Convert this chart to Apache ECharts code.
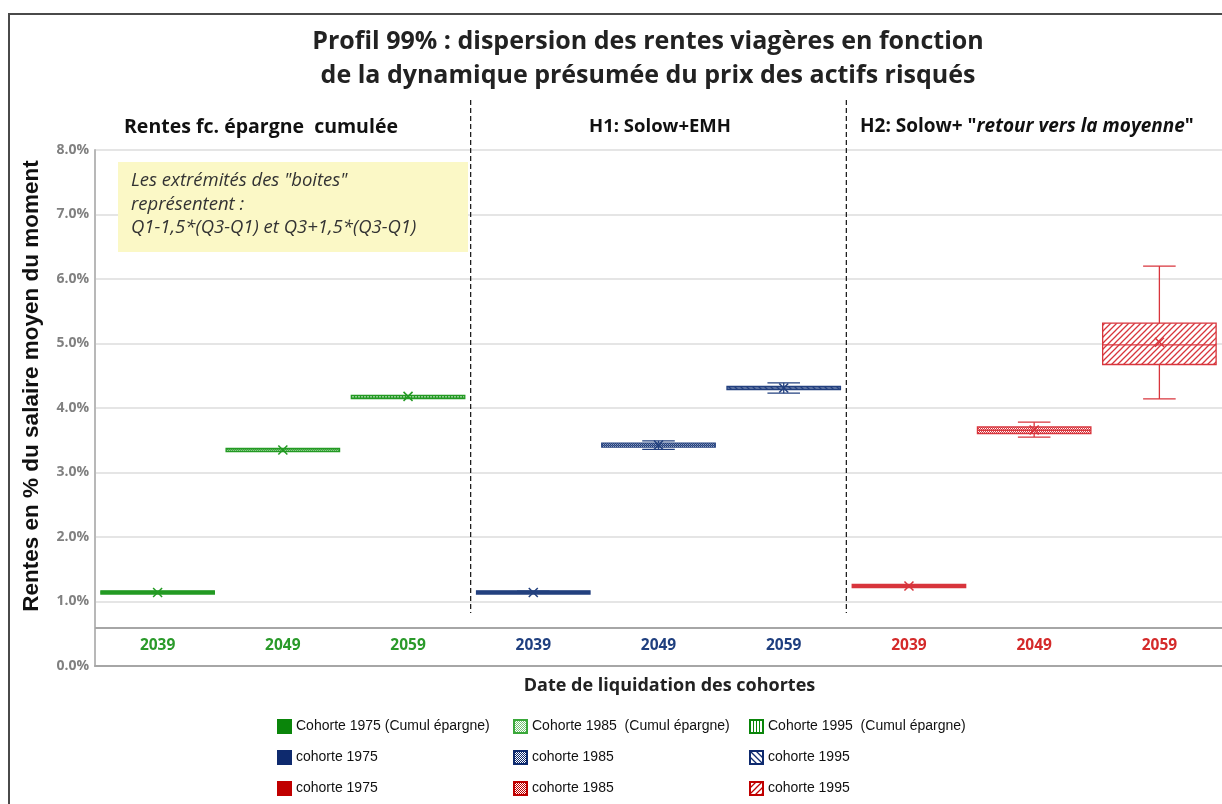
<!DOCTYPE html>
<html>
<head>
    <meta charset="utf-8">
    <title>Profil 99%</title>
    <style>
        html,body{ margin:0; padding:0; background:#fff; }
    </style>
</head>
<body>
<script src="https://cdn.jsdelivr.net/npm/echarts@6/dist/echarts.min.js"></script>
<div id="main" style="width:1222px;height:804px;"></div>
<script type="text/javascript">
    // categories (date de liquidation), 3 groupes
    var categories = ['2039', '2049', '2059', '2039', '2049', '2059', '2039', '2049', '2059'];
    var labelColors = ['#2a9a2a', '#2a9a2a', '#2a9a2a', '#1f3f7f', '#1f3f7f', '#1f3f7f', '#d42a2a', '#d42a2a', '#d42a2a'];

    // une boite par serie (cohorte x hypothese), valeurs en %
    var seriesKeys   = ['v1975', 'v1985', 'v1995', 'b1975', 'b1985', 'b1995', 'r1975', 'r1985', 'r1995'];
    var seriesLabels = ['Cohorte 1975 (Cumul épargne)', 'Cohorte 1985  (Cumul épargne)', 'Cohorte 1995  (Cumul épargne)',
                        'cohorte 1975', 'cohorte 1985', 'cohorte 1995',
                        'cohorte 1975', 'cohorte 1985', 'cohorte 1995'];
    var lowValues    = [1.13, 3.34, 4.16, 1.13, 3.36, 4.23, 1.23, 3.55, 4.14];
    var q1Values     = [1.13, 3.34, 4.16, 1.13, 3.41, 4.30, 1.23, 3.62, 4.69];
    var medianValues = [1.14, 3.35, 4.17, 1.14, 3.425, 4.31, 1.24, 3.655, 4.98];
    var q3Values     = [1.15, 3.36, 4.18, 1.15, 3.44, 4.32, 1.25, 3.69, 5.30];
    var highValues   = [1.15, 3.36, 4.18, 1.16, 3.49, 4.39, 1.25, 3.78, 6.20];
    var meanValues   = [1.14, 3.35, 4.18, 1.14, 3.425, 4.31, 1.24, 3.66, 5.02];

    // separateurs entre les groupes (apres la categorie n)
    var separators = [2, 5];

    var strokeColors = ['#239a23', '#239a23', '#239a23', '#23407f', '#23407f', '#23407f', '#d8353c', '#d8353c', '#d8353c'];
    var legendColors = ['#0a850a', '#3aa83a', '#0a850a', '#0e2a6e', '#0e2a6e', '#0e2a6e', '#c00000', '#c00000', '#c00000'];
    var patternTypes = ['solid', 'dots', 'vstripe', 'solid', 'checker', 'bdiag', 'solid', 'checker', 'fdiag'];

    function makePattern(type, color) {
        if (type == 'solid') return color;
        var cv = document.createElement('canvas');
        var n = (type == 'bdiag' || type == 'fdiag') ? 6 : (type == 'vstripe' ? 3 : 2);
        cv.width = n; cv.height = n;
        var ctx = cv.getContext('2d');
        ctx.fillStyle = '#fff';
        ctx.fillRect(0, 0, n, n);
        ctx.fillStyle = color;
        ctx.strokeStyle = color;
        if (type == 'checker' || type == 'dots') {
            if (type == 'dots') ctx.globalAlpha = 0.7;
            ctx.fillRect(0, 0, 1, 1);
            ctx.fillRect(1, 1, 1, 1);
        } else if (type == 'vstripe') {
            ctx.fillRect(0, 0, 1, n);
        } else {
            ctx.lineWidth = 1.3;
            ctx.beginPath();
            if (type == 'fdiag') {
                ctx.moveTo(-1, n + 1); ctx.lineTo(n + 1, -1);
                ctx.moveTo(-1, 1); ctx.lineTo(1, -1);
                ctx.moveTo(n - 1, n + 1); ctx.lineTo(n + 1, n - 1);
            } else {
                ctx.moveTo(-1, -1); ctx.lineTo(n + 1, n + 1);
                ctx.moveTo(n - 1, -1); ctx.lineTo(n + 1, 1);
                ctx.moveTo(-1, n - 1); ctx.lineTo(1, n + 1);
            }
            ctx.stroke();
        }
        return { image: cv, repeat: 'repeat' };
    }

    function boxRenderer(i) {
        var fill = makePattern(patternTypes[i], strokeColors[i]);
        var col = strokeColors[i];
        return function (params, api) {
            var x = api.value(0);
            var band = api.size([1, 0])[0];
            var half = band * 0.453;
            var cap = band * 0.13;
            var cx = api.coord([x, 0])[0];
            var yLow = api.coord([x, api.value(1)])[1];
            var yQ1 = api.coord([x, api.value(2)])[1];
            var yMed = api.coord([x, api.value(3)])[1];
            var yQ3 = api.coord([x, api.value(4)])[1];
            var yHigh = api.coord([x, api.value(5)])[1];
            var yMean = api.coord([x, api.value(6)])[1];
            var ls = { stroke: col, lineWidth: 1.3, fill: null };
            var m = 4.5;
            return {
                type: 'group',
                children: [
                    { type: 'line', shape: { x1: cx, y1: yHigh, x2: cx, y2: yQ3 }, style: ls },
                    { type: 'line', shape: { x1: cx, y1: yQ1, x2: cx, y2: yLow }, style: ls },
                    { type: 'line', shape: { x1: cx - cap, y1: yHigh, x2: cx + cap, y2: yHigh }, style: ls },
                    { type: 'line', shape: { x1: cx - cap, y1: yLow, x2: cx + cap, y2: yLow }, style: ls },
                    { type: 'rect', shape: { x: cx - half, y: yQ3 - 1, width: half * 2, height: Math.max(yQ1 - yQ3, 0) + 2 },
                      style: { fill: fill, stroke: col, lineWidth: 1.3 } },
                    { type: 'line', shape: { x1: cx - half, y1: yMed, x2: cx + half, y2: yMed }, style: ls },
                    { type: 'line', shape: { x1: cx - m, y1: yMean - m, x2: cx + m, y2: yMean + m }, style: { stroke: col, lineWidth: 1.5 } },
                    { type: 'line', shape: { x1: cx - m, y1: yMean + m, x2: cx + m, y2: yMean - m }, style: { stroke: col, lineWidth: 1.5 } }
                ]
            };
        };
    }

    var series = seriesKeys.map(function (key, i) {
        return {
            name: key,
            type: 'custom',
            renderItem: boxRenderer(i),
            itemStyle: { color: makePattern(patternTypes[i], legendColors[i]), borderColor: legendColors[i], borderWidth: 0.8 },
            encode: { x: 0, y: 3 },
            z: 3,
            data: [[i, lowValues[i], q1Values[i], medianValues[i], q3Values[i], highValues[i], meanValues[i]]]
        };
    });

    // lignes pointillees de separation
    series.push({
        name: 'sep',
        type: 'custom',
        clip: false,
        silent: true,
        renderItem: function (params, api) {
            var band = api.size([1, 0])[0];
            var x = api.coord([api.value(0), 8])[0] + band / 2;
            var yTop = api.coord([0, 8])[1] - 50;
            var yBot = api.coord([0, 0.82])[1];
            return { type: 'line', shape: { x1: x, y1: yTop, x2: x, y2: yBot },
                     style: { stroke: '#111', lineWidth: 1.2, lineDash: [5, 3] } };
        },
        data: separators.map(function (s) { return [s, 8]; }),
        markLine: {
            silent: true, symbol: 'none', label: { show: false },
            lineStyle: { color: '#a6a6a6', type: 'solid', width: 2 },
            data: [{ yAxis: 0.59 }]
        }
    });

    function legendCol(idx, left) {
        return {
            orient: 'vertical', left: left, top: 719, padding: 0,
            itemWidth: 13, itemHeight: 13, itemGap: 16,
            icon: 'rect',
            data: idx.map(function (k) { return seriesKeys[k]; }),
            formatter: function (name) { return seriesLabels[seriesKeys.indexOf(name)]; },
            textStyle: { fontFamily: 'Liberation Sans', fontSize: 14, color: '#111' },
            selectedMode: false
        };
    }

    var myChart = echarts.init(document.getElementById('main'));
    myChart.setOption({
        animation: false,
        textStyle: { fontFamily: 'Open Sans, Liberation Sans, sans-serif' },
        grid: { left: 95, top: 150, width: 1132, height: 516 },
        legend: [legendCol([0, 3, 6], 277), legendCol([1, 4, 7], 513), legendCol([2, 5, 8], 749)],
        xAxis: {
            type: 'category',
            data: categories,
            name: 'Date de liquidation des cohortes',
            nameLocation: 'middle',
            nameGap: 11,
            nameTextStyle: { fontFamily: 'Open Sans', fontWeight: 'bold', fontSize: 18, color: '#222', padding: [0, 0, 0, 22] },
            axisLine: { lineStyle: { color: '#a6a6a6', width: 2 } },
            axisTick: { show: false },
            axisLabel: {
                inside: true, margin: 12,
                fontFamily: 'Open Sans', fontWeight: 'bold', fontSize: 15.5,
                color: function (v, i) { return labelColors[i]; }
            }
        },
        yAxis: {
            type: 'value',
            min: 0, max: 8, interval: 1,
            name: 'Rentes en % du salaire moyen du moment',
            nameLocation: 'middle',
            nameGap: 52,
            nameTextStyle: { fontFamily: 'Liberation Sans', fontWeight: 'bold', fontSize: 22.5, color: '#111', padding: [0, 0, 0, 44] },
            axisLine: { show: true, lineStyle: { color: '#b8b8b8', width: 2 } },
            axisTick: { show: false },
            splitLine: { lineStyle: { color: '#dcdcdc', width: 1.5 } },
            axisLabel: {
                margin: 6,
                fontFamily: 'Open Sans', fontWeight: 'bold', fontSize: 14, color: '#808080',
                formatter: function (v) { return v.toFixed(1) + '%'; }
            }
        },
        graphic: [
            { type: 'rect', silent: true, z: -1, shape: { x: 9, y: 14, width: 1400, height: 900 },
              style: { fill: null, stroke: '#4a4a4a', lineWidth: 2 } },
            { type: 'text', x: 648, y: 25, style: { text: 'Profil 99% : dispersion des rentes viagères en fonction\nde la dynamique présumée du prix des actifs risqués',
              fontFamily: 'Open Sans', fontWeight: 'bold', fontSize: 25, lineHeight: 34, fill: '#222', align: 'center' } },
            { type: 'text', x: 124, y: 117, style: { text: 'Rentes fc. épargne  cumulée', fontFamily: 'Open Sans', fontWeight: 'bold', fontSize: 19.5, fill: '#111' } },
            { type: 'text', x: 660, y: 117, style: { text: 'H1: Solow+EMH', fontFamily: 'Open Sans', fontWeight: 'bold', fontSize: 18.5, fill: '#111', align: 'center' } },
            { type: 'text', x: 860, y: 117, style: { text: '{a|H2: Solow+ "}{b|retour vers la moyenne}{a|"}',
              rich: { a: { fontFamily: 'Open Sans', fontWeight: 'bold', fontSize: 19, fill: '#111' },
                      b: { fontFamily: 'Open Sans', fontWeight: 'bold', fontStyle: 'italic', fontSize: 19, fill: '#111' } } } },
            { type: 'rect', z: 5, shape: { x: 118, y: 162, width: 350, height: 90 }, style: { fill: '#fbf8c6' } },
            { type: 'text', z: 6, x: 131, y: 169, style: { text: 'Les extrémités des "boites"\nreprésentent :\nQ1-1,5*(Q3-Q1) et Q3+1,5*(Q3-Q1)',
              fontFamily: 'Open Sans', fontStyle: 'italic', fontSize: 18.5, lineHeight: 23.5, fill: '#333' } }
        ],
        series: series
    });
</script>
</body>
</html>
